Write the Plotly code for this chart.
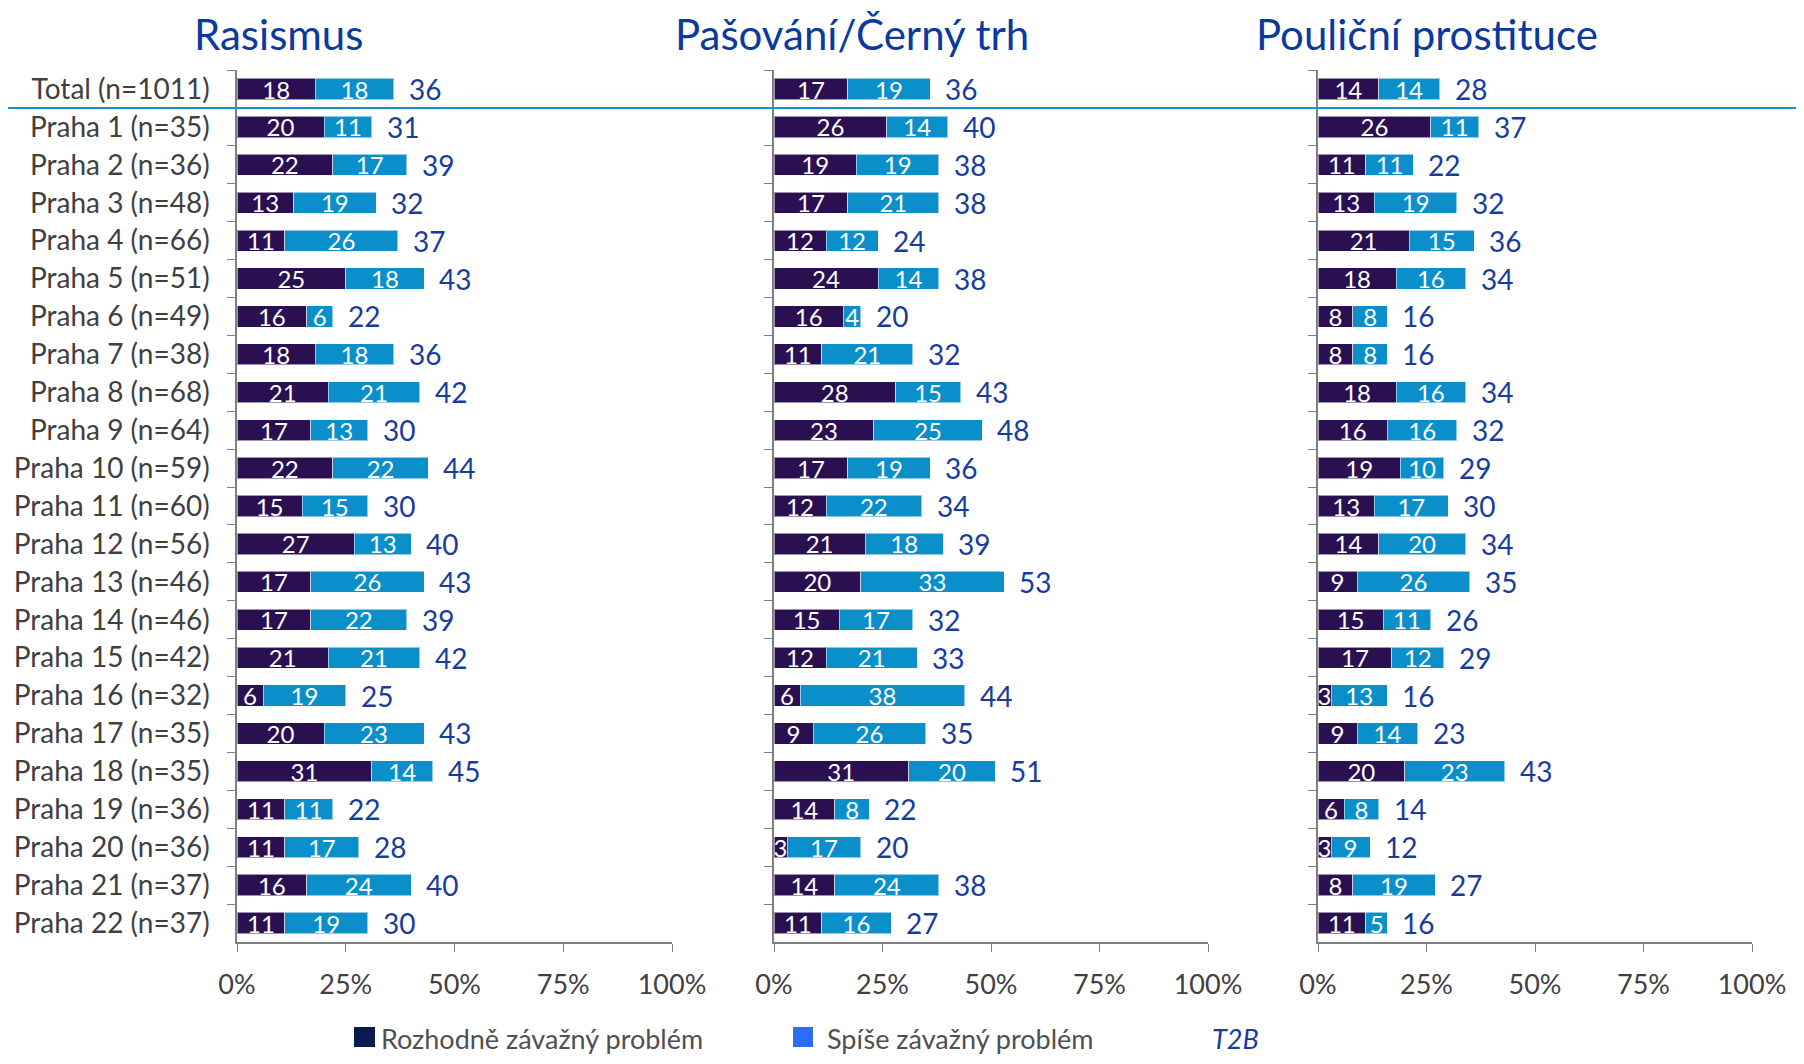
import plotly.graph_objects as go

DARK = "#2a1050"
LIGHT = "#0a8fcb"
TOTAL_INK = "#173c9c"
TITLE_INK = "#0b3a9f"
GRAY = "#404040"
AXIS = "#808080"
FONT = "Lato"

ROWS = ["Total (n=1011)"] + [f"Praha {i} (n={n})" for i, n in zip(
    range(1, 23),
    [35, 36, 48, 66, 51, 49, 38, 68, 64, 59, 60, 56, 46, 46, 42, 32, 35, 35, 36, 36, 37, 37])]

TITLES = ["Rasismus", "Pašování/Černý trh", "Pouliční prostituce"]
LEGEND = ["Rozhodně závažný problém", "Spíše závažný problém", "T2B"]
TICKS = [0, 25, 50, 75, 100]
TICK_TEXT = ["0%", "25%", "50%", "75%", "100%"]

RAS_STRONG = [18, 20, 22, 13, 11, 25, 16, 18, 21, 17, 22, 15, 27, 17, 17, 21, 6, 20, 31, 11, 11, 16, 11]
RAS_RATHER = [18, 11, 17, 19, 26, 18, 6, 18, 21, 13, 22, 15, 13, 26, 22, 21, 19, 23, 14, 11, 17, 24, 19]
RAS_T2B = [36, 31, 39, 32, 37, 43, 22, 36, 42, 30, 44, 30, 40, 43, 39, 42, 25, 43, 45, 22, 28, 40, 30]

PAS_STRONG = [17, 26, 19, 17, 12, 24, 16, 11, 28, 23, 17, 12, 21, 20, 15, 12, 6, 9, 31, 14, 3, 14, 11]
PAS_RATHER = [19, 14, 19, 21, 12, 14, 4, 21, 15, 25, 19, 22, 18, 33, 17, 21, 38, 26, 20, 8, 17, 24, 16]
PAS_T2B = [36, 40, 38, 38, 24, 38, 20, 32, 43, 48, 36, 34, 39, 53, 32, 33, 44, 35, 51, 22, 20, 38, 27]

PRO_STRONG = [14, 26, 11, 13, 21, 18, 8, 8, 18, 16, 19, 13, 14, 9, 15, 17, 3, 9, 20, 6, 3, 8, 11]
PRO_RATHER = [14, 11, 11, 19, 15, 16, 8, 8, 16, 16, 10, 17, 20, 26, 11, 12, 13, 14, 23, 8, 9, 19, 5]
PRO_T2B = [28, 37, 22, 32, 36, 34, 16, 16, 34, 32, 29, 30, 34, 35, 26, 29, 16, 23, 43, 14, 12, 27, 16]

PANELS = [
    (RAS_STRONG, RAS_RATHER, RAS_T2B),
    (PAS_STRONG, PAS_RATHER, PAS_T2B),
    (PRO_STRONG, PRO_RATHER, PRO_T2B),
]

# page body has an 8px margin, so the figure is 16px smaller than the window
# and reference pixel positions are shifted by 8
OFF = 8
W, H = 1804 - 2 * OFF, 1064 - 2 * OFF
L, T = 237 - OFF, 70 - OFF
R, B = W - (1752 - OFF), H - (942 - OFF)
PW, PH = W - L - R, H - T - B
PANEL_PX = [(237, 672), (774, 1208), (1318, 1752)]   # reference pixels


def px_x(x):
    return (x - OFF - L) / PW


def px_y(y):
    return (H - B - (y - OFF)) / PH


fig = go.Figure()
annotations = []
for i, (strong, rather, t2b) in enumerate(PANELS):
    sfx = "" if i == 0 else str(i + 1)
    for vals, color, name in ((strong, DARK, LEGEND[0]), (rather, LIGHT, LEGEND[1])):
        fig.add_bar(y=ROWS, x=vals, orientation="h", name=name, showlegend=False,
                    marker=dict(color=color, line=dict(color="rgba(255,255,255,0.55)", width=1)),
                    text=vals, textposition="inside", insidetextanchor="middle",
                    constraintext="none", textangle=0,
                    textfont=dict(color="white", size=24, family=FONT),
                    xaxis="x" + sfx, yaxis="y" + sfx)
    for row, tot in zip(ROWS, t2b):
        annotations.append(dict(x=tot, y=row, xref="x" + sfx, yref="y" + sfx, text=str(tot),
                                showarrow=False, xanchor="left", xshift=13,
                                font=dict(color=TOTAL_INK, size=28, family=FONT)))

    x0, x1 = PANEL_PX[i]
    fig.layout["xaxis" + sfx] = dict(
        domain=[px_x(x0), px_x(x1)], range=[0, 100], anchor="y" + sfx,
        tickvals=TICKS, ticktext=TICK_TEXT, ticks="outside", ticklen=8,
        tickcolor=AXIS, showline=True, linecolor=AXIS, linewidth=1.5,
        showgrid=False, zeroline=False, ticklabelstandoff=10,
        tickfont=dict(size=27, color=GRAY, family=FONT))
    fig.layout["yaxis" + sfx] = dict(
        anchor="x" + sfx, categoryorder="array", categoryarray=ROWS,
        autorange="reversed", ticks="outside", tickson="boundaries", ticklen=8,
        tickcolor=AXIS, showline=True, linecolor=AXIS, linewidth=1.5,
        showgrid=False, showticklabels=(i == 0), ticklabelstandoff=20,
        tickfont=dict(size=28, color=GRAY, family=FONT))

# panel titles (not centred over the panels in the original), hung from the top edge
for title, cx in zip(TITLES, [278, 852, 1427]):
    annotations.append(dict(x=px_x(cx), y=px_y(OFF), xref="paper", yref="paper", text=title,
                            showarrow=False, xanchor="center", yanchor="top", borderpad=0,
                            font=dict(size=42, color=TITLE_INK, family=FONT)))

# legend drawn by hand, sitting on the bottom edge
shapes = [
    dict(type="line", xref="paper", yref="y", x0=px_x(0), x1=px_x(1804), y0=0.5, y1=0.5,
         line=dict(color="#1a8fd0", width=2)),
    dict(type="rect", xref="paper", yref="paper", x0=px_x(354), x1=px_x(375),
         y0=px_y(1047), y1=px_y(1027), fillcolor="#0b1a4d", line_width=0),
    dict(type="rect", xref="paper", yref="paper", x0=px_x(793), x1=px_x(813),
         y0=px_y(1047), y1=px_y(1027), fillcolor="#2b6df6", line_width=0),
]
for text, lx, color in ((LEGEND[0], 380, "#505050"),
                        (LEGEND[1], 826, "#505050"),
                        (f"<i>{LEGEND[2]}</i>", 1211, TOTAL_INK)):
    annotations.append(dict(x=px_x(lx), y=px_y(1064 - OFF), xref="paper", yref="paper",
                            text=text, showarrow=False, xanchor="left", yanchor="bottom",
                            borderpad=0, font=dict(size=27, color=color, family=FONT)))

fig.update_layout(
    width=W, height=H, barmode="stack", bargap=0.44,
    margin=dict(l=L, r=R, t=T, b=B, autoexpand=False),
    paper_bgcolor="white", plot_bgcolor="white",
    font=dict(family=FONT, color=GRAY),
    annotations=annotations, shapes=shapes,
)
fig.write_html("out.html")
